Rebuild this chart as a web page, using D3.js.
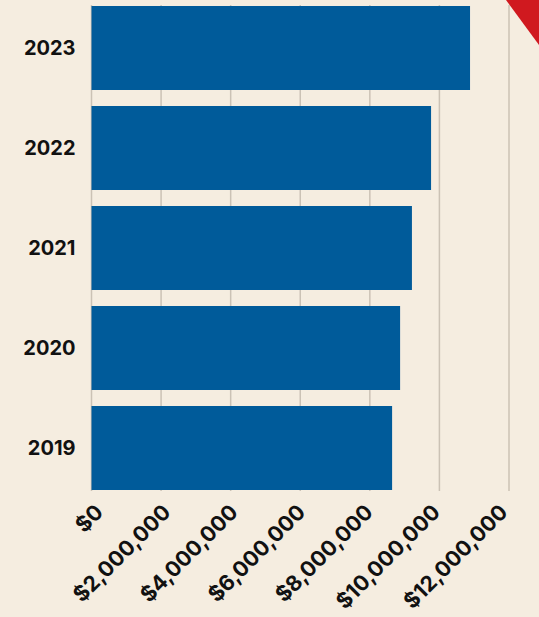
<!DOCTYPE html>
<html lang="en">
<head>
  <meta charset="UTF-8">
  <title>Annual totals 2019-2023</title>
  <style>
    html, body {
      margin: 0;
      padding: 0;
      background: #f5ede0;
    }
    svg text {
      font-family: Inter, "Liberation Sans", Arial, sans-serif;
      font-weight: 700;
      fill: #111;
    }
  </style>
  <script src="https://d3js.org/d3.v7.min.js"></script>
</head>
<body>
  <div id="chart"></div>
  <script>
    // data
    const years = ["2023", "2022", "2021", "2020", "2019"];
    const amounts = [10880000, 9760000, 9210000, 8870000, 8640000];
    const tickValues = [0, 2000000, 4000000, 6000000, 8000000, 10000000, 12000000];

    const width = 539, height = 617;
    const margin = {top: 5, right: 30, bottom: 126, left: 91.5};

    const svg = d3.select("#chart").append("svg")
      .attr("width", width)
      .attr("height", height);

    svg.append("rect")
      .attr("width", width)
      .attr("height", height)
      .attr("fill", "#f5ede0");

    const x = d3.scaleLinear()
      .domain([0, 12000000])
      .range([margin.left, 509]);

    const y = d3.scaleBand()
      .domain(years)
      .range([margin.top, height - margin.bottom])
      .paddingInner(0.16)
      .paddingOuter(0.01);

    // vertical grid lines
    svg.append("g")
      .selectAll("line")
      .data(tickValues)
      .join("line")
      .attr("x1", d => x(d))
      .attr("x2", d => x(d))
      .attr("y1", margin.top)
      .attr("y2", height - margin.bottom)
      .attr("stroke", "#cbc2b5")
      .attr("stroke-width", 1.5);

    // bars
    svg.append("g")
      .selectAll("rect")
      .data(years)
      .join("rect")
      .attr("x", x(0))
      .attr("y", d => y(d))
      .attr("width", (d, i) => x(amounts[i]) - x(0))
      .attr("height", y.bandwidth())
      .attr("fill", "#005b9a");

    // y axis labels
    const yAxis = svg.append("g")
      .attr("transform", `translate(${margin.left - 16},0)`)
      .call(d3.axisLeft(y).tickSize(0).tickPadding(0));
    yAxis.select(".domain").remove();
    yAxis.selectAll("text")
      .attr("font-size", 20)
      .attr("dy", "0.36em");

    // x axis labels, rotated
    const fmt = d => "$" + d3.format(",")(d);
    const xAxis = svg.append("g")
      .attr("transform", `translate(0,${height - margin.bottom})`)
      .call(d3.axisBottom(x).tickValues(tickValues).tickFormat(fmt).tickSize(0).tickPadding(0));
    xAxis.select(".domain").remove();
    xAxis.selectAll(".tick text")
      .attr("font-size", 21.5)
      .attr("text-anchor", "end")
      .attr("dy", "0.36em")
      .attr("y", 0)
      .attr("transform", d => `translate(${7 - 13 * d / 12000000},17) rotate(-45)`);

    // corner ribbon
    svg.append("path")
      .attr("d", `M${width - 33},0 L${width},0 L${width},45 Z`)
      .attr("fill", "#d0191f");
  </script>
</body>
</html>
